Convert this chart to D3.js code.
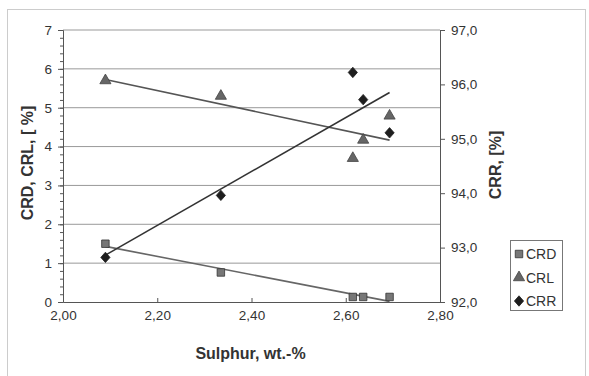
<!DOCTYPE html>
<html>
<head>
<meta charset="utf-8">
<script src="https://cdn.jsdelivr.net/npm/d3@7"></script>
<style>
  body { margin: 0; background: #fff; }
  text { font-family: "Liberation Sans", Arial, sans-serif; fill: #333; }
</style>
</head>
<body>
<svg id="chart"></svg>
<script>
// Sulphur content (x) and the three recovery series
const sulphur = [2.09, 2.335, 2.615, 2.637, 2.693];
const crd = [1.5, 0.76, 0.13, 0.13, 0.13];
const crl = [5.7, 5.3, 3.7, 4.17, 4.79];
const crr = [92.82, 93.96, 96.22, 95.72, 95.11];

const xTicks = [2.0, 2.2, 2.4, 2.6, 2.8];
const leftTicks = [0, 1, 2, 3, 4, 5, 6, 7];
const rightTicks = [92, 93, 94, 95, 96, 97];
const legendNames = ["CRD", "CRL", "CRR"];

const W = 589, H = 376;
const margin = { top: 30, right: 149, bottom: 74, left: 63 };
const width = W - margin.left - margin.right;
const height = H - margin.top - margin.bottom;

const loc = d3.formatLocale({ decimal: ",", thousands: ".", grouping: [3], currency: ["", ""] });
const f2 = loc.format(".2f"), f1 = loc.format(".1f");

const svg = d3.select("#chart").attr("width", W).attr("height", H);

// outer chart border
svg.append("rect")
  .attr("x", 7.5).attr("y", 9.5).attr("width", 578).attr("height", 380)
  .attr("fill", "none").attr("stroke", "#ccc");

const g = svg.append("g").attr("transform", `translate(${margin.left},${margin.top})`);

const x = d3.scaleLinear().domain([2.0, 2.8]).range([0, width]);
const yL = d3.scaleLinear().domain([0, 7]).range([height, 0]);
const yR = d3.scaleLinear().domain([92, 97]).range([height, 0]);

// gridlines
g.selectAll(".grid").data(leftTicks.slice(1)).enter().append("line")
  .attr("x1", 0).attr("x2", width)
  .attr("y1", d => yL(d)).attr("y2", d => yL(d))
  .attr("stroke", "#999").attr("stroke-width", 1);

// left axis
const axL = g.append("g")
  .call(d3.axisLeft(yL).tickValues(leftTicks).tickFormat(d3.format("d")).tickSize(5).tickPadding(6));
// minor ticks
g.append("g").call(d3.axisLeft(yL).tickValues(d3.range(0, 7.01, 0.2)).tickSize(3).tickFormat(""))
  .select(".domain").remove();

// right axis
const axR = g.append("g").attr("transform", `translate(${width},0)`)
  .call(d3.axisRight(yR).tickValues(rightTicks).tickFormat(f1).tickSize(5).tickPadding(6));

// bottom axis
const axB = g.append("g").attr("transform", `translate(0,${height})`)
  .call(d3.axisBottom(x).tickValues(xTicks).tickFormat(f2).tickSizeInner(-4).tickSizeOuter(0).tickPadding(8));

[axL, axR, axB].forEach(a => {
  a.select(".domain").attr("stroke", "#555");
  a.selectAll("text").style("font-size", "13.5px").attr("fill", "#333");
});
g.selectAll(".tick line").attr("stroke", "#555");

// trend lines (least squares)
function fit(xs, ys) {
  const mx = d3.mean(xs), my = d3.mean(ys);
  const sxy = d3.sum(xs, (v, i) => (v - mx) * (ys[i] - my));
  const sxx = d3.sum(xs, v => (v - mx) * (v - mx));
  const b = sxy / sxx;
  return v => my + b * (v - mx);
}
const x0 = d3.min(sulphur), x1 = d3.max(sulphur);
const trends = [
  { ys: crd, y: yL, c: "#666" },
  { ys: crl, y: yL, c: "#555" },
  { ys: crr, y: yR, c: "#333" }
];
trends.forEach(t => {
  const fn = fit(sulphur, t.ys);
  g.append("line")
    .attr("x1", x(x0)).attr("y1", Math.min(height, t.y(fn(x0))))
    .attr("x2", x(x1)).attr("y2", Math.min(height, t.y(fn(x1))))
    .attr("stroke", t.c).attr("stroke-width", 1.6);
});

// markers
const diamond = "M0,-5.2L4.6,0L0,5.2L-4.6,0Z";
const shapes = [
  { ys: crd, y: yL, d: d3.symbol().type(d3.symbolSquare).size(56)(), fill: "#777", stroke: "#333" },
  { ys: crl, y: yL, d: d3.symbol().type(d3.symbolTriangle).size(54)(), fill: "#666", stroke: "#444" },
  { ys: crr, y: yR, d: diamond, fill: "#1e1e1e", stroke: "#1e1e1e" }
];
shapes.forEach(s => {
  g.selectAll(null).data(sulphur).enter().append("path")
    .attr("d", s.d)
    .attr("transform", (d, i) => `translate(${x(d)},${s.y(s.ys[i])})`)
    .attr("fill", s.fill).attr("stroke", s.stroke).attr("stroke-width", 0.8);
});

// axis titles
svg.append("text")
  .attr("x", margin.left + width / 2 - 1).attr("y", 359)
  .attr("text-anchor", "middle")
  .style("font-size", "16px").style("font-weight", "bold")
  .text("Sulphur, wt.-%");

svg.append("text")
  .attr("transform", `translate(33,${margin.top + height / 2 - 3}) rotate(-90)`)
  .attr("text-anchor", "middle")
  .style("font-size", "16px").style("font-weight", "bold")
  .text("CRD, CRL, [ %]");

svg.append("text")
  .attr("transform", `translate(501,${margin.top + height / 2 - 1}) rotate(-90)`)
  .attr("text-anchor", "middle")
  .style("font-size", "16px").style("font-weight", "bold")
  .text("CRR, [%]");

// legend
const lg = svg.append("g").attr("transform", "translate(510,240)");
lg.append("rect").attr("x", 0.5).attr("y", 0.5).attr("width", 52).attr("height", 70)
  .attr("fill", "#fff").attr("stroke", "#777");
legendNames.forEach((name, i) => {
  const s = shapes[i];
  const yy = 14 + i * 23.5;
  lg.append("path")
    .attr("d", s.d)
    .attr("transform", `translate(9,${yy})`)
    .attr("fill", s.fill).attr("stroke", s.stroke).attr("stroke-width", 0.8);
  lg.append("text").attr("x", 16).attr("y", yy + 5)
    .style("font-size", "14px").text(name);
});
</script>
</body>
</html>
